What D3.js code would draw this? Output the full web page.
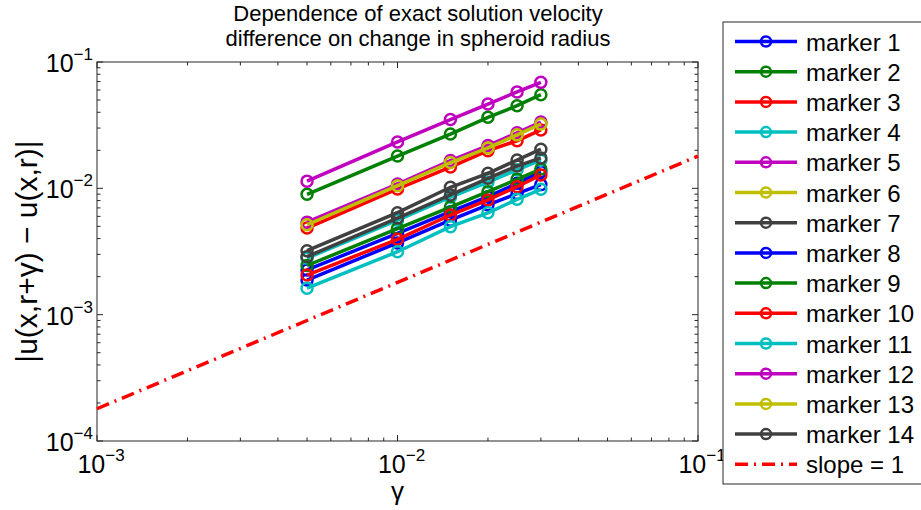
<!DOCTYPE html>
<html><head><meta charset="utf-8">
<script src="https://cdn.jsdelivr.net/npm/d3@7"></script>
<style>body{margin:0;background:#fff;} text{font-family:"Liberation Sans",Arial,sans-serif;fill:#000;}</style>
</head><body><svg id="c" width="921" height="510"></svg>
<script>
const gammaVals = [0.005, 0.01, 0.015, 0.02, 0.025, 0.03];
const seriesNames = ["marker 1","marker 2","marker 3","marker 4","marker 5","marker 6","marker 7",
  "marker 8","marker 9","marker 10","marker 11","marker 12","marker 13","marker 14"];
const seriesColors = ["#0000FF","#008000","#FF0000","#00BFBF","#BF00BF","#BFBF00","#404040",
  "#0000FF","#008000","#FF0000","#00BFBF","#BF00BF","#BFBF00","#404040"];
const m1  = [0.00226, 0.0044, 0.00653, 0.00859, 0.01096, 0.01355];
const m2  = [0.00897, 0.0180, 0.0269, 0.0365, 0.0451, 0.0551];
const m3  = [0.00485, 0.00988, 0.01475, 0.01986, 0.0238, 0.0290];
const m4  = [0.0028, 0.0056, 0.0085, 0.0112, 0.0140, 0.0167];
const m5  = [0.0114, 0.0233, 0.0350, 0.0465, 0.0580, 0.0690];
const m6  = [0.00522, 0.01063, 0.01625, 0.0211, 0.0269, 0.0327];
const m7  = [0.00321, 0.00642, 0.0102, 0.01315, 0.01675, 0.0204];
const m8  = [0.00188, 0.0037, 0.0056, 0.0074, 0.0091, 0.0107];
const m9  = [0.00245, 0.0048, 0.0071, 0.0094, 0.0118, 0.0142];
const m10 = [0.00206, 0.00395, 0.00615, 0.00809, 0.0103, 0.01276];
const m11 = [0.00162, 0.00315, 0.00497, 0.0064, 0.00819, 0.00983];
const m12 = [0.00540, 0.0108, 0.0166, 0.0218, 0.0275, 0.0335];
const m13 = [0.00515, 0.0105, 0.0160, 0.0209, 0.0265, 0.0323];
const m14 = [0.00288, 0.00582, 0.00886, 0.0120, 0.01502, 0.0174];
const seriesValues = [m1,m2,m3,m4,m5,m6,m7,m8,m9,m10,m11,m12,m13,m14];
const slopeX = [0.001, 0.1];
const slopeY = [0.00018, 0.018];
const xTickExps = [-3, -2, -1];
const yTickExps = [-4, -3, -2, -1];
const titleLines = ["Dependence of exact solution velocity", "difference on change in spheroid radius"];

const svg = d3.select("#c");
const L = 97, R = 698, T = 62, B = 441;
const x = d3.scaleLog().domain([1e-3, 1e-1]).range([L, R]);
const y = d3.scaleLog().domain([1e-4, 1e-1]).range([B, T]);

// ticks
const axisG = svg.append("g");
function minorTicks(lo, hi) {
  const out = [];
  for (let e = lo; e < hi; e++) for (let k = 1; k <= 9; k++) out.push(k * Math.pow(10, e));
  out.push(Math.pow(10, hi));
  return out;
}
const xt = minorTicks(-3, -1), yt = minorTicks(-4, -1);
xt.forEach(v => {
  const major = Math.abs(Math.log10(v) - Math.round(Math.log10(v))) < 1e-9;
  const len = major ? 6 : 3.5;
  axisG.append("line").attr("x1", x(v)).attr("x2", x(v)).attr("y1", B).attr("y2", B - len).attr("stroke", "#262626");
  axisG.append("line").attr("x1", x(v)).attr("x2", x(v)).attr("y1", T).attr("y2", T + len).attr("stroke", "#262626");
});
yt.forEach(v => {
  const major = Math.abs(Math.log10(v) - Math.round(Math.log10(v))) < 1e-9;
  const len = major ? 6 : 3.5;
  axisG.append("line").attr("y1", y(v)).attr("y2", y(v)).attr("x1", L).attr("x2", L + len).attr("stroke", "#262626");
  axisG.append("line").attr("y1", y(v)).attr("y2", y(v)).attr("x1", R).attr("x2", R - len).attr("stroke", "#262626");
});
axisG.append("rect").attr("x", L).attr("y", T).attr("width", R - L).attr("height", B - T)
  .attr("fill", "none").attr("stroke", "#262626").attr("stroke-width", 1);

// tick labels
xTickExps.forEach(e => {
  const t = svg.append("text").attr("x", x(Math.pow(10, e)) + 4).attr("y", 473).attr("text-anchor", "middle").style("font-size", "25px");
  t.append("tspan").text("10");
  t.append("tspan").attr("dy", -12).style("font-size", "17px").text("\u2212" + Math.abs(e));
});
yTickExps.forEach(e => {
  const t = svg.append("text").attr("x", 93).attr("y", y(Math.pow(10, e)) + 10).attr("text-anchor", "end").style("font-size", "25px");
  t.append("tspan").text("10");
  t.append("tspan").attr("dy", -12).style("font-size", "17px").text("\u2212" + Math.abs(e));
});

// labels
svg.append("text").attr("x", (L + R) / 2).attr("y", 500).attr("text-anchor", "middle").style("font-size", "26px").text("\u03B3");
svg.append("text").attr("transform", `translate(37,${(T + B) / 2}) rotate(-90)`).attr("text-anchor", "middle")
  .style("font-size", "30px").text("|u(x,r+\u03B3) \u2212 u(x,r)|");
titleLines.forEach((s, i) => {
  svg.append("text").attr("x", 418).attr("y", 21 + i * 25).attr("text-anchor", "middle").style("font-size", "22px").text(s);
});

// slope line
const plotG = svg.append("g");
plotG.append("path").datum(slopeX.map((v, i) => [v, slopeY[i]]))
  .attr("d", d3.line().x(d => x(d[0])).y(d => y(d[1])))
  .attr("fill", "none").attr("stroke", "#FF0000").attr("stroke-width", 3.5).attr("stroke-dasharray", "13,6,2,6");

// series
const line = d3.line().x(d => x(d[0])).y(d => y(d[1]));
seriesValues.forEach((vals, i) => {
  const pts = gammaVals.map((g, j) => [g, vals[j]]);
  const g = plotG.append("g");
  g.append("path").datum(pts).attr("d", line).attr("fill", "none").attr("stroke", seriesColors[i]).attr("stroke-width", 3.5);
  g.selectAll("circle").data(pts).enter().append("circle")
    .attr("cx", d => x(d[0])).attr("cy", d => y(d[1])).attr("r", 5.5)
    .attr("fill", "none").attr("stroke", seriesColors[i]).attr("stroke-width", 2.5);
});

// legend
const lg = svg.append("g");
lg.append("rect").attr("x", 723).attr("y", 22).attr("width", 205).attr("height", 462)
  .attr("fill", "#fff").attr("stroke", "#262626").attr("stroke-width", 1);
const rowY = i => 41.5 + i * 30.2;
seriesNames.forEach((n, i) => {
  const yy = rowY(i);
  lg.append("line").attr("x1", 735).attr("x2", 797).attr("y1", yy).attr("y2", yy).attr("stroke", seriesColors[i]).attr("stroke-width", 3.5);
  lg.append("circle").attr("cx", 766).attr("cy", yy).attr("r", 5).attr("fill", "none").attr("stroke", seriesColors[i]).attr("stroke-width", 2.5);
  lg.append("text").attr("x", 806).attr("y", yy + 9).style("font-size", "24px").text(n);
});
{
  const yy = rowY(14);
  lg.append("line").attr("x1", 735).attr("x2", 797).attr("y1", yy).attr("y2", yy).attr("stroke", "#FF0000").attr("stroke-width", 3.5).attr("stroke-dasharray", "13,6,2,6");
  lg.append("text").attr("x", 806).attr("y", yy + 9).style("font-size", "24px").text("slope = 1");
}
</script></body></html>
